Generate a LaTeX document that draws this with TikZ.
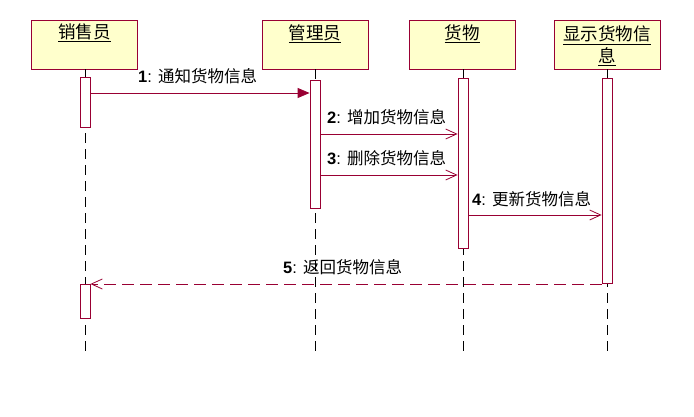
\documentclass[tikz,border=0pt]{standalone}
\usepackage{fontspec}
\setmainfont{Liberation Sans}
\newfontfamily\cjk{Noto Sans CJK SC}
\usetikzlibrary{arrows.meta}
\definecolor{uml}{HTML}{990033}
\definecolor{boxfill}{HTML}{FFFFCC}
\begin{document}
\begin{tikzpicture}[x=1pt,y=-1pt,
  objbox/.style={draw=uml,fill=boxfill,line width=0.8pt,minimum width=106pt,minimum height=49pt,inner sep=0pt},
  objtext/.style={inner sep=0pt,font=\fontsize{17.5}{22}\selectfont\cjk,align=center},
  actbar/.style={draw=uml,fill=white,line width=0.8pt,minimum width=10pt,inner sep=0pt,anchor=north},
  lifeline/.style={draw=black,line width=0.8pt,dash pattern=on 10pt off 6pt},
  syncmsg/.style={draw=uml,line width=0.8pt,-{Triangle[length=12pt,width=10pt]}},
  asyncmsg/.style={draw=uml,line width=0.8pt,-{Straight Barb[length=11pt,width=10pt,line width=0.8pt]}},
  retmsg/.style={draw=uml,line width=0.8pt,dash pattern=on 12pt off 6pt,-{Straight Barb[length=11pt,width=10pt,line width=0.8pt]}},
  msglabel/.style={inner sep=0pt,anchor=west,font=\fontsize{16.5}{18}\selectfont}
]
\useasboundingbox (0,0) rectangle (694,417);
% object boxes
\node[objbox] (b1) at (84.5,44.5) {};
\node[objbox] (b2) at (315,44.5) {};
\node[objbox] (b3) at (462,44.5) {};
\node[objbox] (b4) at (607,44.5) {};
\node[objtext] (t1) at (84.5,33) {\underline{销售员}};
\node[objtext] (t2) at (315,34) {\underline{管理员}};
\node[objtext] (t3) at (462,34) {\underline{货物}};
\node[objtext] (t4) at (607,46) {\underline{显示货物信}\\\underline{息}};
% lifeline ends
\coordinate (e1) at (85,353);
\coordinate (e2) at (315,353);
\coordinate (e3) at (463,353);
\coordinate (e4) at (607,353);
\draw[lifeline] (b1.south -| e1) -- (e1);
\draw[lifeline] (b2.south -| e2) -- (e2);
\draw[lifeline] (b3.south -| e3) -- (e3);
\draw[lifeline] (b4.south -| e4) -- (e4);
% activation bars
\node[actbar,minimum height=50pt] (a1) at (85,77) {};
\node[actbar,minimum height=34pt] (a1b) at (85,284) {};
\node[actbar,minimum height=128pt] (a2) at (315,80) {};
\node[actbar,minimum height=170pt] (a3) at (463,78) {};
\node[actbar,minimum height=205pt] (a4) at (607,78) {};
% messages
\coordinate (y1) at (0,93);
\coordinate (y2) at (0,134);
\coordinate (y3) at (0,175);
\coordinate (y4) at (0,215);
\coordinate (y5) at (0,284);
\draw[syncmsg] (a1.east |- y1) -- (a2.west |- y1);
\draw[asyncmsg] (a2.east |- y2) -- (a3.west |- y2);
\draw[asyncmsg] (a2.east |- y3) -- (a3.west |- y3);
\draw[asyncmsg] (a3.east |- y4) -- (a4.west |- y4);
\draw[retmsg] (a4.west |- y5) -- (a1b.east |- y5);
% labels
\node[msglabel] (l1) at (138,76) {\textbf{1}: {\cjk 通知货物信息}};
\node[msglabel] (l2) at (327,117) {\textbf{2}: {\cjk 增加货物信息}};
\node[msglabel] (l3) at (327,158) {\textbf{3}: {\cjk 删除货物信息}};
\node[msglabel] (l4) at (472,199) {\textbf{4}: {\cjk 更新货物信息}};
\node[msglabel] (l5) at (283,267) {\textbf{5}: {\cjk 返回货物信息}};
\end{tikzpicture}
\end{document}
